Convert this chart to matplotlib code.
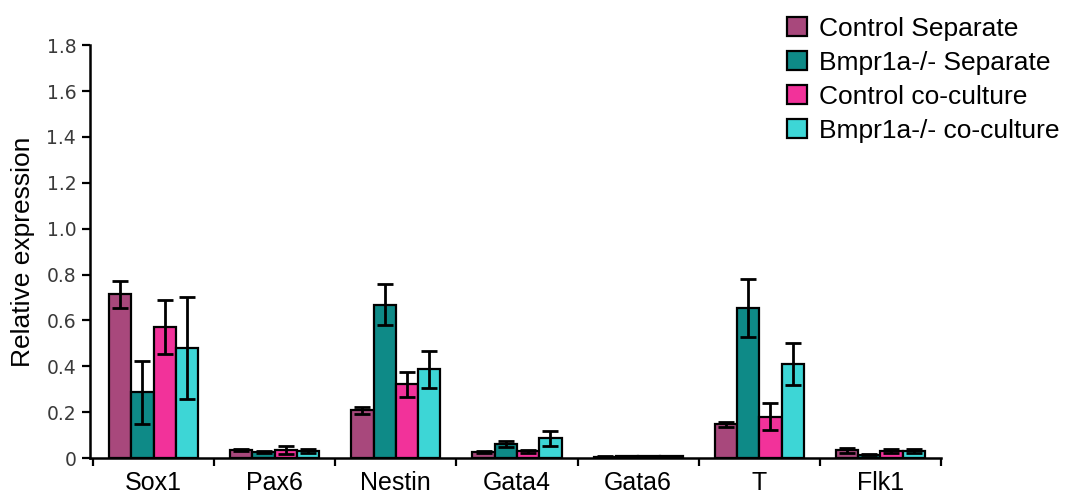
import matplotlib
matplotlib.use('Agg')
import matplotlib.pyplot as plt
import numpy as np

genes = ['Sox1', 'Pax6', 'Nestin', 'Gata4', 'Gata6', 'T', 'Flk1']
groups = ['Control Separate', 'Bmpr1a-/- Separate', 'Control co-culture', 'Bmpr1a-/- co-culture']
colors = ['#A8487C', '#0E8A87', '#F2329A', '#3DD6D6']

ctrl_sep = [0.713, 0.035, 0.209, 0.025, 0.006, 0.147, 0.034]
ctrl_sep_err = [0.060, 0.004, 0.015, 0.004, 0.002, 0.012, 0.010]
bmp_sep = [0.287, 0.025, 0.668, 0.062, 0.007, 0.653, 0.015]
bmp_sep_err = [0.137, 0.005, 0.090, 0.012, 0.002, 0.127, 0.003]
ctrl_co = [0.572, 0.035, 0.321, 0.030, 0.007, 0.180, 0.030]
ctrl_co_err = [0.117, 0.017, 0.054, 0.006, 0.002, 0.058, 0.010]
bmp_co = [0.480, 0.030, 0.387, 0.086, 0.007, 0.410, 0.030]
bmp_co_err = [0.222, 0.010, 0.081, 0.032, 0.002, 0.093, 0.010]

values = [ctrl_sep, bmp_sep, ctrl_co, bmp_co]
errors = [ctrl_sep_err, bmp_sep_err, ctrl_co_err, bmp_co_err]

fig = plt.figure(figsize=(10.68, 4.96), dpi=100)
ax = fig.add_axes([0.0843, 0.0766, 0.7967, 0.8324])

x = np.arange(len(genes))
w = 0.184
for i in range(4):
    ax.bar(x + (i - 1.5) * w, values[i], w, yerr=errors[i], color=colors[i],
           edgecolor='black', linewidth=1.6, label=groups[i],
           error_kw=dict(ecolor='black', elinewidth=2, capsize=5.5, capthick=2))

ax.set_xlim(-0.525, 6.5)
ax.set_ylim(0, 1.8)

yt = np.arange(0, 1.81, 0.2)
ax.set_yticks(yt)
ax.set_yticklabels(['0'] + ['%.1f' % v for v in yt[1:]], fontsize=13.5,
                   family='DejaVu Sans', color='#3a3a3a')
ax.tick_params(axis='y', direction='out', length=6, width=1.6, pad=4)

# ticks sit between the gene groups, labels at the group centres
ax.set_xticks(np.arange(-0.5, 6.6, 1))
ax.set_xticklabels([])
ax.tick_params(axis='x', which='major', direction='out', length=6, width=1.6)
ax.set_xticks(x, minor=True)
ax.set_xticklabels(genes, minor=True, fontsize=18, family='Liberation Sans')
ax.tick_params(axis='x', which='minor', length=0, pad=9)

for s in ['top', 'right']:
    ax.spines[s].set_visible(False)
for s in ['left', 'bottom']:
    ax.spines[s].set_linewidth(1.8)

ax.set_ylabel('Relative expression', fontsize=19, family='Liberation Sans', labelpad=8)

fig.legend(loc='upper left', bbox_to_anchor=(0.715, 1.014), frameon=False,
           prop={'family': 'Liberation Sans', 'size': 19}, handlelength=0.75,
           handleheight=0.75, handletextpad=0.45, labelspacing=0.38)

fig.savefig('out.png', dpi=100)
